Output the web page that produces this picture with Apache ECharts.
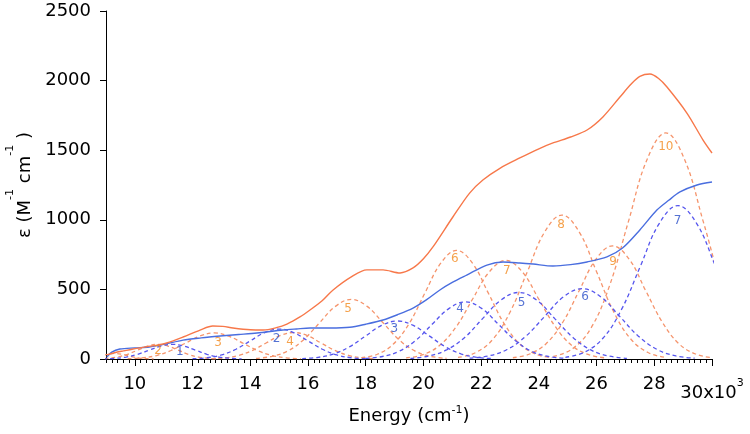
<!DOCTYPE html>
<html><head><meta charset="utf-8">
<script src="https://cdn.jsdelivr.net/npm/echarts@6/dist/echarts.min.js"></script>
<style>html,body{margin:0;padding:0;background:#fff}#c{width:750px;height:434px}</style>
</head><body><div id="c"></div>
<script>
// ---- data (energy in 10^3 cm^-1, epsilon in M^-1 cm^-1) ----
const orangeTotal = [[9.03,30],[9.3,45],[9.6,58],[9.94,72],[10.4,88],[10.77,100],[11.1,115],[11.67,158],[12.26,208],[12.7,237],[13.05,234],[13.4,223],[14.0,210],[14.44,208],[14.9,225],[15.27,251],[15.72,302],[16.07,352],[16.5,420],[16.87,496],[17.5,590],[18.04,640],[18.6,640],[19.19,618],[19.64,654],[20.0,720],[20.33,805],[21.02,1020],[21.6,1192],[22.06,1286],[22.65,1370],[23.34,1444],[24.0,1510],[24.49,1552],[25.1,1595],[25.67,1645],[26.22,1739],[26.81,1882],[27.2,1975],[27.5,2030],[27.85,2047],[28.15,2015],[28.44,1954],[29.13,1767],[29.69,1573],[30.0,1480]];
const blueTotal = [[9.03,14],[9.2,50],[9.48,72],[10.0,80],[10.5,86],[11.0,105],[11.67,136],[12.3,152],[12.95,165],[13.6,176],[14.23,187],[15.13,208],[15.6,216],[16.07,223],[16.76,223],[17.45,228],[18.0,250],[18.6,280],[19.1,318],[19.64,366],[20.1,425],[20.57,496],[21.0,550],[21.5,603],[22.2,675],[22.76,697],[23.34,690],[23.8,682],[24.49,668],[25.1,678],[25.67,697],[26.36,733],[26.9,797],[27.5,927],[28.09,1070],[28.5,1140],[28.89,1200],[29.48,1250],[30.0,1272]];

const orangeBand1 = [[7.95,0],[8.18,2],[8.4,5],[8.63,13],[8.85,24],[9.08,35],[9.3,40],[9.53,35],[9.75,24],[9.98,13],[10.2,5],[10.43,2],[10.65,0]];
const orangeBand2 = [[8.7,1],[9.05,5],[9.4,14],[9.75,34],[10.1,64],[10.45,93],[10.8,105],[11.15,93],[11.5,64],[11.85,34],[12.2,14],[12.55,5],[12.9,1]];
const orangeBand3 = [[9.75,2],[10.25,8],[10.75,25],[11.25,61],[11.75,113],[12.25,165],[12.75,187],[13.25,165],[13.75,113],[14.25,61],[14.75,25],[15.25,8],[15.75,2]];
const orangeBand4 = [[12.65,2],[13.13,8],[13.6,26],[14.08,62],[14.55,115],[15.03,168],[15.5,190],[15.98,168],[16.45,115],[16.93,62],[17.4,26],[17.88,8],[18.35,2]];
const orangeBand5 = [[14.2,5],[14.75,19],[15.3,58],[15.85,139],[16.4,260],[16.95,378],[17.5,428],[18.05,378],[18.6,260],[19.15,139],[19.7,58],[20.25,19],[20.8,5]];
const orangeBand6 = [[17.85,9],[18.4,34],[18.95,106],[19.5,253],[20.05,473],[20.6,688],[21.15,780],[21.7,688],[22.25,473],[22.8,253],[23.35,106],[23.9,34],[24.45,9]];
const orangeBand7 = [[19.4,8],[19.98,31],[20.55,96],[21.13,230],[21.7,429],[22.28,625],[22.85,708],[23.43,625],[24.0,429],[24.58,230],[25.15,96],[25.73,31],[26.3,8]];
const orangeBand8 = [[21.2,11],[21.8,45],[22.4,140],[23.0,336],[23.6,627],[24.2,912],[24.8,1034],[25.4,912],[26.0,627],[26.6,336],[27.2,140],[27.8,45],[28.4,11]];
const orangeBand9 = [[23.1,9],[23.68,36],[24.25,110],[24.83,264],[25.4,492],[25.98,717],[26.55,812],[27.13,717],[27.7,492],[28.28,264],[28.85,110],[29.43,36],[30.0,9]];
const orangeBand10 = [[24.5,18],[25.15,71],[25.8,220],[26.45,527],[27.1,985],[27.75,1433],[28.4,1624],[29.05,1433],[29.7,985],[30.35,527],[31.0,220],[31.65,71],[32.3,18]];

const blueBand1 = [[8.9,1],[9.3,5],[9.7,14],[10.1,34],[10.5,64],[10.9,93],[11.3,105],[11.7,93],[12.1,64],[12.5,34],[12.9,14],[13.3,5],[13.7,1]];
const blueBand2 = [[12.0,2],[12.5,9],[13.0,29],[13.5,70],[14.0,130],[14.5,190],[15.0,215],[15.5,190],[16.0,130],[16.5,70],[17.0,29],[17.5,9],[18.0,2]];
const blueBand3 = [[15.8,3],[16.35,12],[16.9,37],[17.45,89],[18.0,166],[18.55,241],[19.1,273],[19.65,241],[20.2,166],[20.75,89],[21.3,37],[21.85,12],[22.4,3]];
const blueBand4 = [[18.0,5],[18.58,18],[19.15,55],[19.73,133],[20.3,249],[20.88,362],[21.45,410],[22.03,362],[22.6,249],[23.18,133],[23.75,55],[24.33,18],[24.9,5]];
const blueBand5 = [[19.55,5],[20.18,21],[20.8,65],[21.43,155],[22.05,290],[22.68,422],[23.3,478],[23.93,422],[24.55,290],[25.18,155],[25.8,65],[26.43,21],[27.05,5]];
const blueBand6 = [[21.6,6],[22.25,22],[22.9,68],[23.55,164],[24.2,306],[24.85,446],[25.5,505],[26.15,446],[26.8,306],[27.45,164],[28.1,68],[28.75,22],[29.4,6]];
const blueBand7 = [[24.92,12],[25.57,48],[26.22,149],[26.87,358],[27.52,668],[28.17,973],[28.82,1102],[29.47,973],[30.12,668],[30.77,358],[31.42,149],[32.07,48],[32.72,12]];

const orangeBands = [orangeBand1,orangeBand2,orangeBand3,orangeBand4,orangeBand5,orangeBand6,orangeBand7,orangeBand8,orangeBand9,orangeBand10];
const blueBands = [blueBand1,blueBand2,blueBand3,blueBand4,blueBand5,blueBand6,blueBand7];

// band number labels: [text, energy, epsilon]
const orangeLabels = [['2',10.80,57],['3',12.88,115],['4',15.38,122],['5',17.39,359],['6',21.09,718],['7',22.89,632],['8',24.77,963],['9',26.57,697],['10',28.40,1523]];
const blueLabels = [['1',11.56,52],['2',14.91,144],['3',18.99,220],['4',21.27,357],['5',23.40,404],['6',25.60,448],['7',28.81,994]];

const xMin = 9, xMax = 30, xLabelMin = 10, xLabelStep = 2;
const yMin = 0, yMax = 2500, yStep = 500;

// ---- styles ----
const C_OR = '#F7784A', C_OR_D = '#F5946C', C_OR_T = '#F28A1E';
const C_BL = '#4A6EDF', C_BL_D = '#5656EE', C_BL_T = '#2A4FC8';
const FONT = 'DejaVu Sans';
const plotLeft = 106, plotRight = 38, plotTop = 11, plotBottom = 75;
const plotW = 750 - plotLeft - plotRight;
const labelGridLeft = plotLeft + (xLabelMin - xMin) / (xMax - xMin) * plotW;

const chart = echarts.init(document.getElementById('c'), null, {renderer: 'canvas'});

const bandSeries = (bands, color) => bands.map(b => ({
  type: 'line', data: b, smooth: 0.4, symbol: 'none', silent: true, z: 2,
  lineStyle: {color: color, width: 1.3, type: [4, 3]}
}));
const labelSeries = (labels, color) => ({
  type: 'scatter', symbol: 'circle', symbolSize: 1, silent: true, z: 5,
  itemStyle: {color: 'transparent'},
  data: labels.map(([t, x, y]) => ({name: t, value: [x, y]})),
  label: {show: true, position: 'inside', formatter: '{b}', color: color, fontFamily: FONT, fontSize: 12}
});

chart.setOption({
  animation: false,
  backgroundColor: '#ffffff',
  grid: [
    {left: plotLeft, right: plotRight, top: plotTop, bottom: plotBottom, containLabel: false, outerBoundsMode: 'none'},
    {left: labelGridLeft, right: plotRight, top: plotTop, bottom: plotBottom, containLabel: false, outerBoundsMode: 'none'}
  ],
  xAxis: [
    {type: 'value', gridIndex: 0, min: xMin, max: xMax, interval: 1,
     name: '{a|Energy (cm}{s|-1}{a|)}', nameLocation: 'middle', nameGap: 46,
     nameTextStyle: {rich: {
       a: {fontFamily: FONT, fontSize: 18, color: '#000', lineHeight: 22},
       s: {fontFamily: FONT, fontSize: 11, color: '#000', verticalAlign: 'top', lineHeight: 22}
     }},
     axisLine: {show: true, onZero: false, lineStyle: {color: '#000', width: 1}},
     axisTick: {show: true, length: 4, lineStyle: {color: '#000', width: 1}},
     minorTick: {show: true, splitNumber: 5, length: 4, lineStyle: {color: '#000', width: 1}},
     axisLabel: {show: false}, splitLine: {show: false}},
    {type: 'value', gridIndex: 1, min: xLabelMin, max: xMax, interval: xLabelStep,
     axisLine: {show: false},
     axisTick: {show: true, length: 7, lineStyle: {color: '#000', width: 1}},
     axisLabel: {show: true, margin: 15,
       formatter: v => v === xMax ? '{n|' + v + 'x10}{s|3}' : '{m|' + v + '}',
       rich: {
         m: {fontFamily: FONT, fontSize: 18, color: '#000', lineHeight: 20},
         n: {fontFamily: FONT, fontSize: 18, color: '#000', lineHeight: 38},
         s: {fontFamily: FONT, fontSize: 11, color: '#000', verticalAlign: 'top', padding: [4, 0, 0, 0]}
       }},
     splitLine: {show: false}}
  ],
  yAxis: [
    {type: 'value', gridIndex: 0, min: yMin, max: yMax, interval: yStep,
     name: '{a|ε (M}{s|-1}{a| cm}{s|-1}{a| )}', nameLocation: 'middle', nameGap: 61,
     nameTextStyle: {rich: {
       a: {fontFamily: FONT, fontSize: 18, color: '#000', lineHeight: 40},
       s: {fontFamily: FONT, fontSize: 11, color: '#000', verticalAlign: 'top'}
     }},
     axisLine: {show: true, lineStyle: {color: '#000', width: 1}},
     axisTick: {show: true, length: 6, lineStyle: {color: '#000', width: 1}},
     axisLabel: {margin: 15, fontFamily: FONT, fontSize: 18, color: '#000', formatter: v => String(v)},
     splitLine: {show: false}},
    {type: 'value', gridIndex: 1, min: yMin, max: yMax, show: false}
  ],
  series: [
    ...bandSeries(orangeBands, C_OR_D),
    ...bandSeries(blueBands, C_BL_D),
    {type: 'line', data: blueTotal, smooth: 0.3, symbol: 'none', silent: true, z: 3,
     lineStyle: {color: C_BL, width: 1.4}},
    {type: 'line', data: orangeTotal, smooth: 0.3, symbol: 'none', silent: true, z: 3,
     lineStyle: {color: C_OR, width: 1.4}},
    labelSeries(orangeLabels, C_OR_T),
    labelSeries(blueLabels, C_BL_T)
  ]
});
</script></body></html>
